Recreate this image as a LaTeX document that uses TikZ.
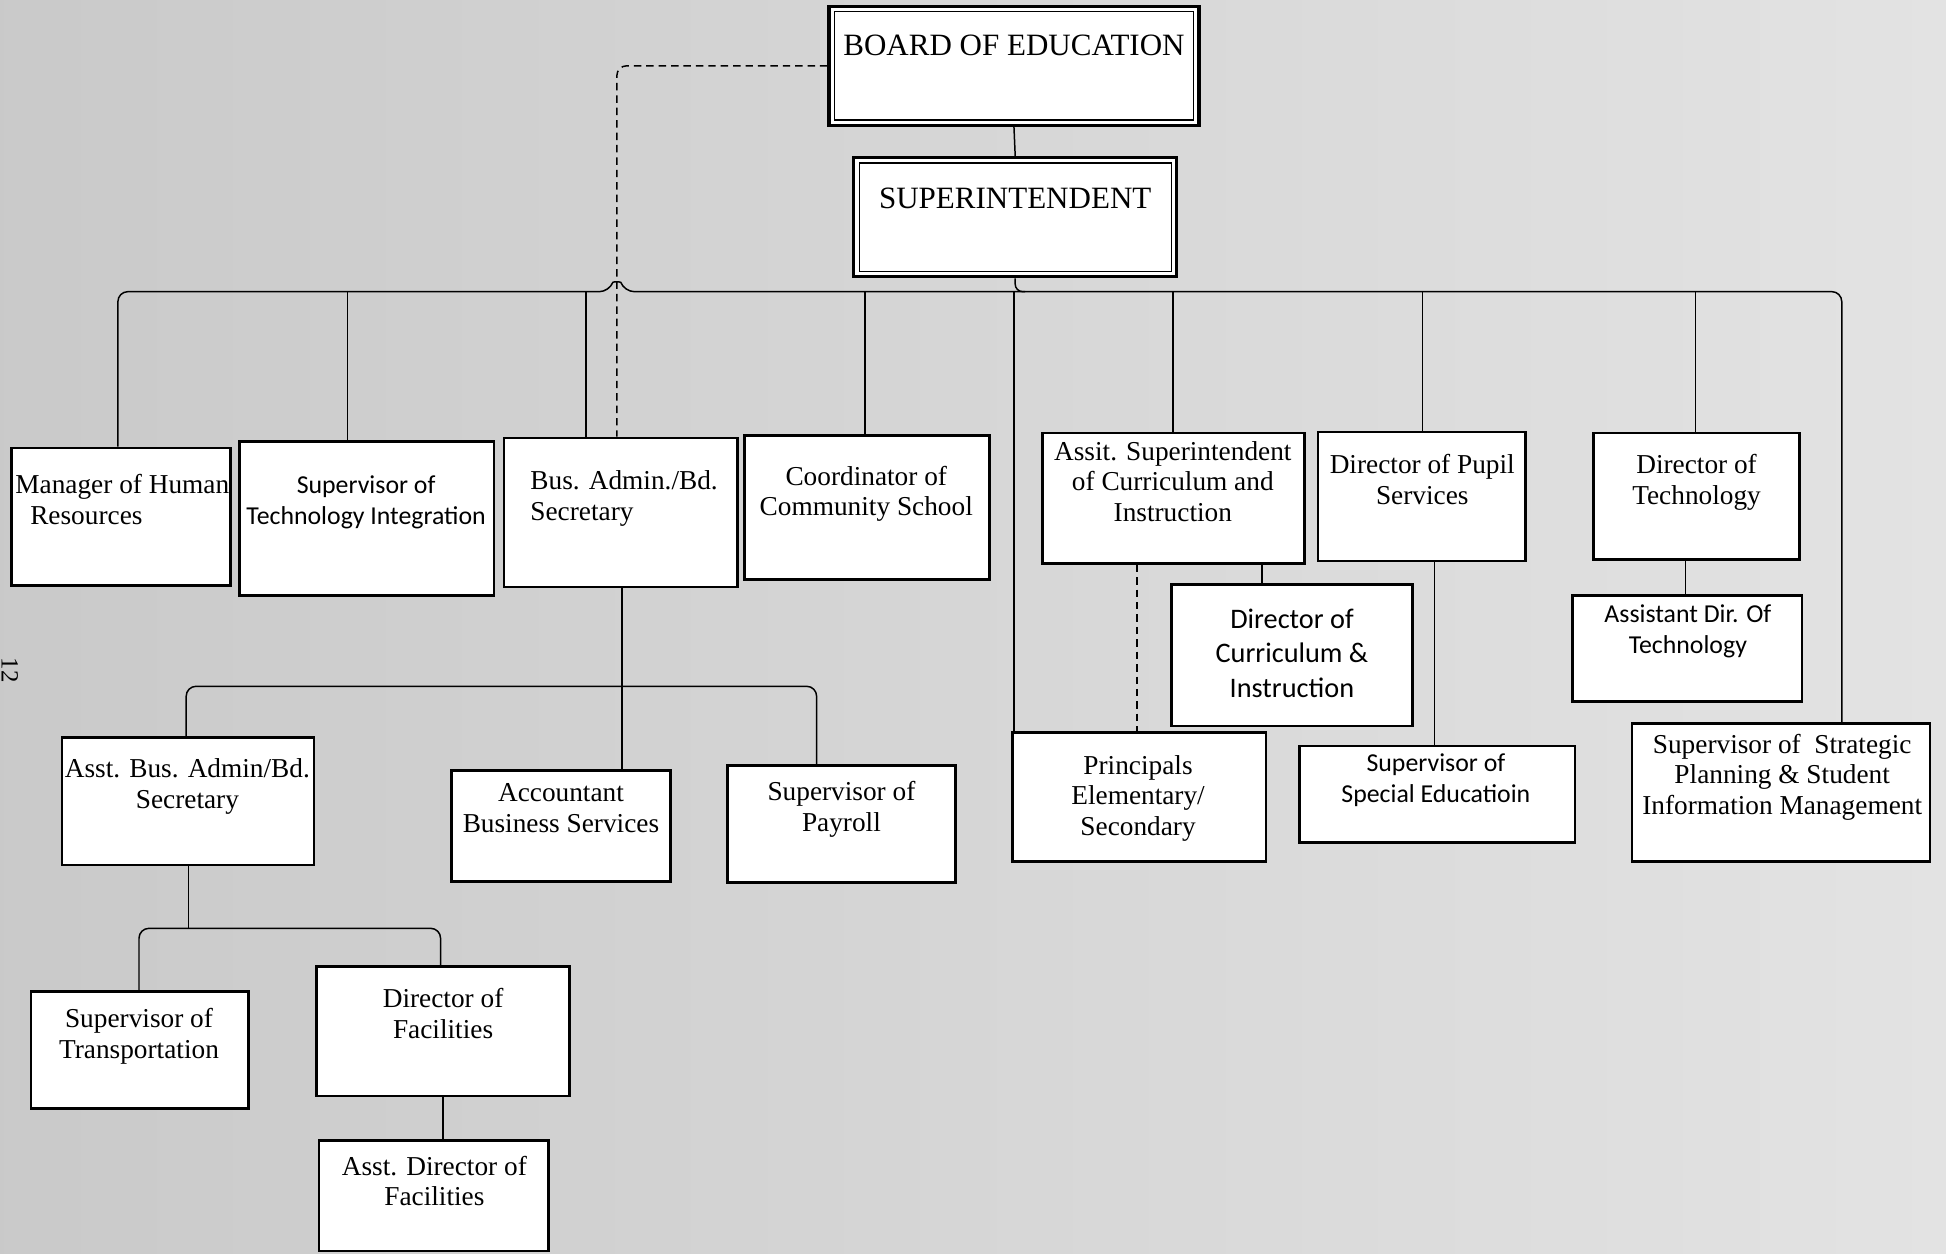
\documentclass[tikz,border=0pt]{standalone}
\usepackage{fontspec}
\setmainfont{Liberation Serif}
\newfontfamily\calfont{Carlito}
\usetikzlibrary{fit}
\begin{document}
\begin{tikzpicture}[x=0.5pt,y=-0.5pt,
  box/.style={draw, line width=1.1pt, fill=white, inner sep=0pt},
  conn/.style={line width=0.6pt},
  dconn/.style={line width=0.6pt, dash pattern=on 3pt off 2pt},
  sf/.style={font=\fontsize{11}{12.4}\selectfont, align=center, inner sep=0pt, anchor=north},
  sfl/.style={font=\fontsize{11}{12.4}\selectfont, align=left, inner sep=0pt, anchor=north west},
  cf/.style={font=\calfont\fontsize{10.4}{12.4}\selectfont, align=center, inner sep=0pt, anchor=north},
  big/.style={font=\fontsize{12.5}{14}\selectfont, inner sep=0pt, anchor=north},
]
\shade[left color=black!21, right color=black!11] (0,0) rectangle (1568,1010);
\useasboundingbox (0,0) rectangle (1568,1010);

% page number
\node[rotate=-90, font=\fontsize{10}{11}\selectfont, inner sep=0pt] (pg) at (8,540) {12};

% boxes
\node[box, line width=1.3pt, fit={(668,5) (966,101)}] (board) {};
\draw[line width=0.5pt] ([shift={(2.8pt,-2.8pt)}]board.north west) rectangle ([shift={(-2.8pt,2.8pt)}]board.south east);
\node[box, line width=1.3pt, fit={(688,127) (948,223)}] (sup) {};
\draw[line width=0.5pt] ([shift={(2.8pt,-2.8pt)}]sup.north west) rectangle ([shift={(-2.8pt,2.8pt)}]sup.south east);

\node[box, fit={(9,361) (186,472)}] (mgr) {};
\node[box, fit={(193,356) (398,480)}] (sti) {};
\node[box, fit={(406,353) (594,473)}] (bus) {};
\node[box, fit={(600,351) (797,467)}] (coord) {};
\node[box, fit={(840,349) (1051,454)}] (asup) {};
\node[box, fit={(1062,348) (1229,452)}] (pupil) {};
\node[box, fit={(1284,349) (1450,451)}] (dtech) {};
\node[box, fit={(1267,480) (1452,565)}] (adt) {};
\node[box, fit={(944,471) (1138,585)}] (dcurr) {};
\node[box, fit={(816,590) (1020,694)}] (princ) {};
\node[box, fit={(1047,601) (1269,679)}] (sped) {};
\node[box, fit={(1315,583) (1555,694)}] (strat) {};
\node[box, fit={(50,594) (253,697)}] (abus) {};
\node[box, fit={(364,621) (540,710)}] (acct) {};
\node[box, fit={(586,617) (770,711)}] (pay) {};
\node[box, fit={(25,799) (200,893)}] (trans) {};
\node[box, fit={(255,779) (459,883)}] (dfac) {};
\node[box, fit={(257,919) (442,1008)}] (adfac) {};

% texts
\node[big] (board-t) at (817,28) {BOARD OF EDUCATION};
\node[big] (sup-t) at (818,151) {SUPERINTENDENT};
\node[sfl] (mgr-t) at (12,382) {Manager of Human\\\hspace*{6pt}Resources};
\node[cf] (sti-t) at (295,383) {Supervisor of\\Technology Integration};
\node[sfl] (bus-t) at (427,379) {Bus. Admin./Bd.\\Secretary};
\node[sf] (coord-t) at (698,375) {Coordinator of\\Community School};
\node[sf] (asup-t) at (945,355) {Assit. Superintendent\\of Curriculum and\\Instruction};
\node[sf] (pupil-t) at (1146,366) {Director of Pupil\\Services};
\node[sf] (dtech-t) at (1367,366) {Director of\\Technology};
\node[cf] (adt-t) at (1360,487) {Assistant Dir. Of\\Technology};
\node[cf, font=\calfont\fontsize{11.4}{14}\selectfont] (dcurr-t) at (1041,490) {Director of\\Curriculum \&\\Instruction};
\node[sf] (princ-t) at (917,608) {Principals\\Elementary/\\Secondary};
\node[cf] (sped-t) at (1157,607) {Supervisor of\\Special Educatioin};
\node[sf] (strat-t) at (1436,591) {Supervisor of\ \ Strategic\\Planning \& Student\\Information Management};
\node[sf] (abus-t) at (151,611) {Asst. Bus. Admin/Bd.\\Secretary};
\node[sf] (acct-t) at (452,631) {Accountant\\Business Services};
\node[sf] (pay-t) at (678,629) {Supervisor of\\Payroll};
\node[sf] (trans-t) at (112,812) {Supervisor of\\Transportation};
\node[sf] (dfac-t) at (357,796) {Director of\\Facilities};
\node[sf] (adfac-t) at (350,931) {Asst. Director of\\Facilities};

% connectors
\draw[conn] (board.south) -- (sup.north);
\coordinate (bL) at (95,235);
\coordinate (bR) at (1484,235);
\draw[conn, rounded corners=3pt] (sup.south) -- (sup.south |- bL) -- ([xshift=4pt]sup.south |- bL);
\draw[conn, rounded corners=4pt] (bL |- mgr.north) -- (bL) -- (491,235) .. controls (494,227) and (500,227) .. (503,235) -- (bR) -- (bR |- strat.north);

\coordinate (dSTI) at (280,235);
\coordinate (dBUS) at (472,235);
\coordinate (dCO) at (697,235);
\coordinate (dPR) at (817,235);
\coordinate (dAS) at (945,235);
\coordinate (dPU) at (1146,235);
\coordinate (dDT) at (1366,235);
\draw[conn] (dSTI) -- (dSTI |- sti.north);
\draw[conn] (dBUS) -- (dBUS |- bus.north);
\draw[conn] (dCO) -- (dCO |- coord.north);
\draw[conn] (dPR) -- (dPR |- princ.north);
\draw[conn] (dAS) -- (dAS |- asup.north);
\draw[conn] (dPU) -- (dPU |- pupil.north);
\draw[conn] (dDT) -- (dDT |- dtech.north);

% dashed board -> bus admin
\coordinate (dsh) at (497,53);
\draw[dconn, rounded corners=4pt] (board.west) -- (dsh) -- (dsh |- bus.north);

% curriculum branch
\coordinate (xdd) at (916,0);
\draw[dconn] (xdd |- asup.south) -- (xdd |- princ.north);
\coordinate (xc) at (1017,0);
\draw[conn] (xc |- asup.south) -- (xc |- dcurr.north);
\coordinate (xp) at (1156,0);
\draw[conn] (xp |- pupil.south) -- (xp |- sped.north);
\coordinate (xt) at (1358,0);
\draw[conn] (xt |- dtech.south) -- (xt |- adt.north);

% business branch
\coordinate (s1) at (501,553);
\coordinate (s1L) at (150,553);
\coordinate (s1R) at (658,553);
\draw[conn] (s1 |- bus.south) -- (s1);
\draw[conn, rounded corners=4pt] (s1L |- abus.north) -- (s1L) -- (s1R) -- (s1R |- pay.north);
\draw[conn] (s1) -- (s1 |- acct.north);

\coordinate (s2) at (152,748);
\coordinate (s2L) at (112,748);
\coordinate (s2R) at (355,748);
\draw[conn] (s2 |- abus.south) -- (s2);
\draw[conn, rounded corners=4pt] (s2L |- trans.north) -- (s2L) -- (s2R) -- (s2R |- dfac.north);
\coordinate (xf) at (357,0);
\draw[conn] (xf |- dfac.south) -- (xf |- adfac.north);
\end{tikzpicture}
\end{document}
